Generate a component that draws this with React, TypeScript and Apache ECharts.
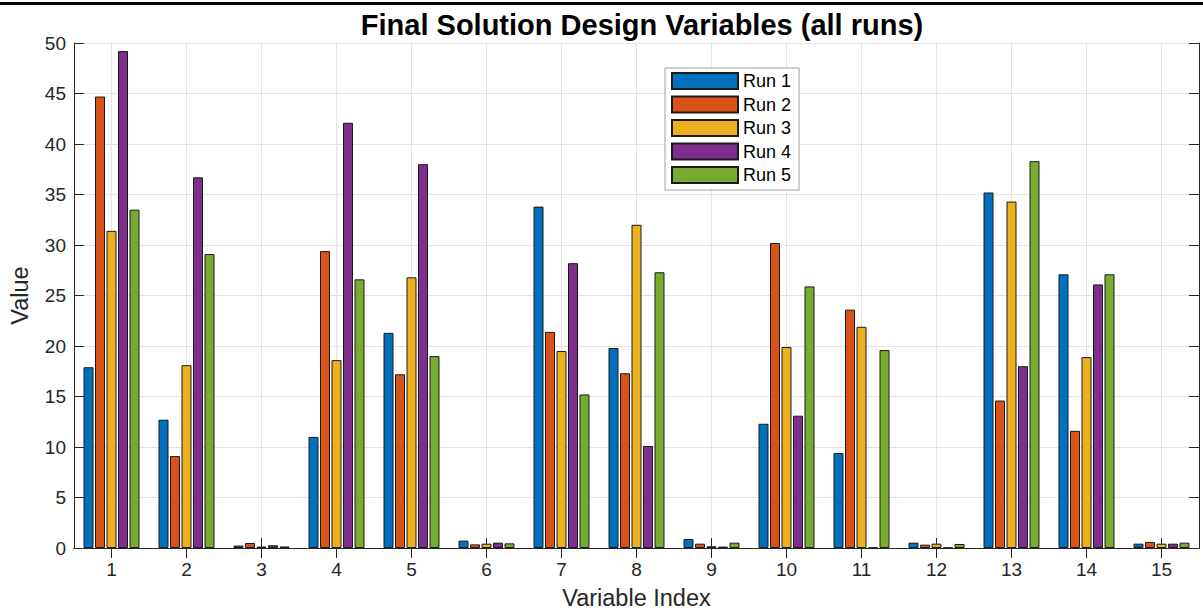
import React, { useEffect, useRef } from "react";
import * as echarts from "echarts";

const categories = ["1", "2", "3", "4", "5", "6", "7", "8", "9", "10", "11", "12", "13", "14", "15"];
const seriesNames = ["Run 1", "Run 2", "Run 3", "Run 4", "Run 5"];
const run1 = [17.9, 12.7, 0.24, 11.0, 21.3, 0.73, 33.8, 19.8, 0.89, 12.3, 9.4, 0.53, 35.2, 27.1, 0.43];
const run2 = [44.7, 9.1, 0.5, 29.4, 17.2, 0.36, 21.4, 17.3, 0.43, 30.2, 23.6, 0.33, 14.6, 11.6, 0.6];
const run3 = [31.4, 18.1, 0.14, 18.6, 26.8, 0.43, 19.5, 32.0, 0.17, 19.9, 21.9, 0.43, 34.3, 18.9, 0.43];
const run4 = [49.2, 36.7, 0.27, 42.1, 38.0, 0.53, 28.2, 10.1, 0.14, 13.1, 0.03, 0.03, 18.0, 26.1, 0.43];
const run5 = [33.5, 29.1, 0.15, 26.6, 19.0, 0.46, 15.2, 27.3, 0.53, 25.9, 19.6, 0.4, 38.3, 27.1, 0.53];
const runs = [run1, run2, run3, run4, run5];
const colors = ["#0072BD", "#D95319", "#EDB120", "#7E2F8E", "#77AC30"];

const FONT = "'Liberation Sans', Arial, Helvetica, sans-serif";
const AXIS_COLOR = "#262626";
const GRID_COLOR = "#e3e3e3";

export default function App() {
  const ref = useRef<HTMLDivElement>(null);

  useEffect(() => {
    if (!ref.current) return;
    const chart = echarts.init(ref.current, undefined, { renderer: "svg" });
    chart.setOption({
      animation: false,
      backgroundColor: "#ffffff",
      textStyle: { fontFamily: FONT },
      title: {
        text: "Final Solution Design Variables (all runs)",
        left: 637,
        textAlign: "center",
        top: 5,
        textStyle: { fontFamily: FONT, fontSize: 29, fontWeight: "bold", color: "#000" },
      },
      legend: {
        orient: "vertical",
        left: 665,
        top: 68,
        data: seriesNames,
        itemWidth: 66,
        itemHeight: 16,
        itemGap: 5.5,
        padding: [4, 8, 6, 6],
        backgroundColor: "#ffffff",
        borderColor: "#a0a0a0",
        borderWidth: 1,
        borderRadius: 0,
        icon: "rect",
        textStyle: { fontFamily: FONT, fontSize: 18, lineHeight: 18, color: "#000" },
      },
      grid: { left: 74, right: 4, top: 43, bottom: 64, containLabel: false },
      xAxis: [
        {
          type: "category",
          data: categories,
          position: "bottom",
          name: "Variable Index",
          nameLocation: "middle",
          nameGap: 38,
          nameTextStyle: { fontFamily: FONT, fontSize: 23.5, color: AXIS_COLOR },
          axisLine: { show: true, lineStyle: { color: AXIS_COLOR, width: 1 } },
          axisTick: { show: true, inside: true, length: 10, alignWithLabel: true, lineStyle: { color: AXIS_COLOR } },
          axisLabel: { fontFamily: FONT, fontSize: 19, color: AXIS_COLOR, margin: 12 },
          splitLine: { show: true, alignWithLabel: true, lineStyle: { color: GRID_COLOR, width: 1 } },
        },
        {
          type: "category",
          data: categories,
          position: "top",
          axisLine: { show: true, lineStyle: { color: AXIS_COLOR, width: 1 } },
          axisTick: { show: true, inside: true, length: 10, alignWithLabel: true, lineStyle: { color: AXIS_COLOR } },
          axisLabel: { show: false },
          splitLine: { show: false },
        },
      ],
      yAxis: [
        {
          type: "value",
          min: 0,
          max: 50,
          interval: 5,
          name: "Value",
          nameLocation: "middle",
          nameGap: 42,
          nameTextStyle: { fontFamily: FONT, fontSize: 23.5, color: AXIS_COLOR },
          axisLine: { show: true, lineStyle: { color: AXIS_COLOR, width: 1 } },
          axisTick: { show: true, inside: true, length: 10, lineStyle: { color: AXIS_COLOR } },
          axisLabel: { fontFamily: FONT, fontSize: 19, color: AXIS_COLOR, margin: 8 },
          splitLine: { show: true, lineStyle: { color: GRID_COLOR, width: 1 } },
        },
        {
          type: "value",
          min: 0,
          max: 50,
          interval: 5,
          position: "right",
          axisLine: { show: true, lineStyle: { color: AXIS_COLOR, width: 1 } },
          axisTick: { show: true, inside: true, length: 10, lineStyle: { color: AXIS_COLOR } },
          axisLabel: { show: false },
          splitLine: { show: false },
        },
      ],
      series: runs.map((vals, i) => ({
        name: seriesNames[i],
        type: "bar",
        xAxisIndex: 0,
        yAxisIndex: 0,
        data: vals,
        barWidth: 10,
        barGap: "15%",
        itemStyle: { color: colors[i], borderColor: "#1a1a1a", borderWidth: 1 },
      })),
      graphic: [
        {
          type: "rect",
          shape: { x: 0, y: 2, width: 1203, height: 3 },
          style: { fill: "#000" },
          silent: true,
        },
      ],
    });
    return () => chart.dispose();
  }, []);

  return <div ref={ref} style={{ width: 1203, height: 615, position: "absolute", left: 0, top: 0 }} />;
}
